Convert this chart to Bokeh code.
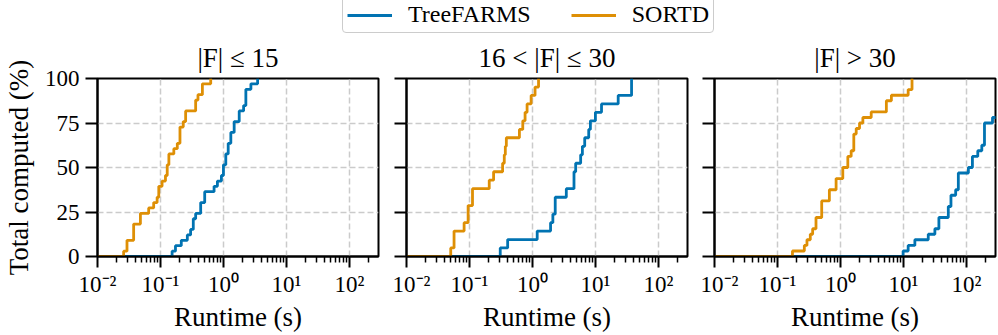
from bokeh.plotting import figure
from bokeh.layouts import column, row
from bokeh.models import (Legend, LegendItem, FixedTicker, CustomJSTickFormatter,
                          CustomLabelingPolicy, Range1d)
from bokeh.embed import file_html
from bokeh.resources import INLINE

# ---------------- data (runtime in seconds, cumulative % computed) ----------------
titles = ["|F| \u2264 15", "16 < |F| \u2264 30", "|F| > 30"]
series_names = ["TreeFARMS", "SORTD"]

p1_treefarms_t = [0.153, 0.173, 0.214, 0.267, 0.301, 0.332, 0.362, 0.435, 0.504, 0.710,
                  0.802, 0.929, 1.00, 1.09, 1.19, 1.31, 1.48, 1.78, 2.09, 2.27, 2.73, 3.49]
p1_treefarms_pct = [3.0, 6.1, 9.1, 12.1, 15.2, 21.2, 24.2, 30.3, 36.4, 39.4,
                    42.4, 45.5, 51.5, 57.6, 63.6, 69.7, 75.8, 81.8, 84.8, 93.9, 97.0, 100.0]
p1_sortd_t = [0.026, 0.0294, 0.0375, 0.048, 0.065, 0.078, 0.0885, 0.094, 0.106, 0.120,
              0.128, 0.136, 0.163, 0.185, 0.204, 0.230, 0.251, 0.362, 0.394, 0.463, 0.628]
p1_sortd_pct = [3.0, 9.1, 18.2, 24.2, 27.3, 30.3, 33.3, 39.4, 42.4, 45.5,
                51.5, 57.6, 60.6, 63.6, 72.7, 75.8, 81.8, 87.9, 90.9, 97.0, 100.0]

p2_treefarms_t = [0.308, 0.404, 1.19, 1.94, 2.11, 2.30, 3.45, 4.57, 4.86, 5.83,
                  6.21, 6.76, 7.83, 8.32, 10.0, 12.5, 23.0, 37.5]
p2_treefarms_pct = [4.8, 9.5, 14.3, 19.0, 23.8, 33.3, 38.1, 47.6, 52.4, 57.1,
                    61.9, 66.7, 71.4, 76.2, 81.0, 85.7, 90.5, 100.0]
p2_sortd_t = [0.0504, 0.0569, 0.0822, 0.0952, 0.1117, 0.206, 0.2415, 0.336, 0.357, 0.371,
              0.385, 0.621, 0.702, 0.764, 0.822, 0.953, 1.10, 1.25]
p2_sortd_pct = [4.8, 14.3, 19.0, 28.6, 38.1, 42.9, 47.6, 52.4, 57.1, 61.9,
                66.7, 71.4, 76.2, 81.0, 85.7, 90.5, 95.2, 100.0]

p3_treefarms_t = [9.89, 11.9, 15.2, 24.8, 31.6, 36.6, 51.6, 56.9, 67.6, 74.5,
                  107.6, 124.7, 151.7, 175.8, 193.8, 260.0]
p3_treefarms_pct = [3.1, 6.2, 9.4, 12.5, 15.6, 21.9, 28.1, 34.4, 37.5, 46.9,
                    50.0, 56.2, 59.4, 62.5, 75.0, 78.1]
p3_sortd_t = [0.173, 0.267, 0.294, 0.332, 0.362, 0.409, 0.504, 0.667, 0.853, 1.09,
              1.31, 1.48, 1.63, 1.78, 2.01, 2.27, 3.08, 5.36, 6.44, 11.9, 13.7]
p3_sortd_pct = [3.1, 6.2, 9.4, 12.5, 15.6, 21.9, 31.2, 37.5, 43.8, 50.0,
                56.2, 59.4, 68.8, 71.9, 75.0, 78.1, 81.2, 87.5, 90.6, 93.8, 100.0]

x_major_ticks = [0.01, 0.1, 1, 10, 100]
y_ticks = [0, 25, 50, 75, 100]
X_START, X_END = 0.01, 290.0

# ---------------- styling ----------------
COLORS = {"TreeFARMS": "#0173b2", "SORTD": "#de8f05"}
FONT = "Liberation Serif"
TICK_FS = "23px"
LABEL_FS = "27px"
TITLE_FS = "27px"
LEGEND_FS = "24px"
LINE_W = 2.8

minor_ticks = [m * t for t in x_major_ticks for m in range(2, 10) if m * t <= X_END]

sup_js = """
const sup = {'-':'\u207b','0':'\u2070','1':'\u00b9','2':'\u00b2','3':'\u00b3'};
const e = Math.round(Math.log10(tick));
return '10' + String(e).split('').map(c => sup[c]).join('');
"""

hide_labels_js = """
for (const i of indices) { indices.unset(i) }
return indices
"""


def step_xy(t, pct):
    xs = [X_START] + list(t)
    ys = [0.0] + list(pct)
    if ys[-1] < 100:
        xs.append(X_END * 10)
        ys.append(ys[-1])
    return xs, ys


def make_panel(title, tf, so, width, left, right, first):
    p = figure(width=width, height=301, x_axis_type="log",
               x_range=Range1d(X_START, X_END), y_range=Range1d(0, 100),
               output_backend="svg", toolbar_location=None,
               min_border_left=left, min_border_right=right,
               min_border_top=44, min_border_bottom=79)
    p.title.text = title
    p.title.align = "center"
    p.title.text_font = FONT
    p.title.text_font_size = TITLE_FS
    p.title.text_font_style = "normal"
    p.title.text_color = "black"
    p.title.standoff = 11

    for name, (t, pct) in zip(series_names, [tf, so]):
        xs, ys = step_xy(t, pct)
        p.step(xs, ys, mode="after", line_color=COLORS[name], line_width=LINE_W)

    p.outline_line_color = "black"
    p.outline_line_width = 2
    p.outline_line_alpha = 1

    p.xaxis.ticker = FixedTicker(ticks=x_major_ticks, minor_ticks=minor_ticks)
    p.xaxis.formatter = CustomJSTickFormatter(code=sup_js)
    p.yaxis.ticker = FixedTicker(ticks=y_ticks, minor_ticks=[])

    for ax in [p.xaxis[0], p.yaxis[0]]:
        ax.axis_line_width = 2
        ax.axis_line_color = "black"
        ax.major_tick_line_width = 2
        ax.major_tick_line_color = "black"
        ax.minor_tick_line_width = 1.5
        ax.minor_tick_line_color = "black"
        ax.major_tick_in = 0
        ax.minor_tick_in = 0
        ax.major_label_text_font = FONT
        ax.major_label_text_font_size = TICK_FS
        ax.major_label_text_color = "black"
        ax.axis_label_text_font = FONT
        ax.axis_label_text_font_size = LABEL_FS
        ax.axis_label_text_font_style = "normal"
        ax.axis_label_text_color = "black"

    p.xaxis.major_tick_out = 11
    p.xaxis.minor_tick_out = 6
    p.xaxis.major_label_standoff = 4
    p.xaxis.axis_label = "Runtime (s)"
    p.xaxis.axis_label_standoff = 2

    p.yaxis.major_tick_out = 12
    p.yaxis.minor_tick_out = 0
    if first:
        p.yaxis.axis_label = "Total computed (%)"
        p.yaxis.major_label_standoff = 6
        p.yaxis.axis_label_standoff = 8
    else:
        p.yaxis.major_label_text_font_size = "0px"
        p.yaxis.major_label_standoff = 0
        p.yaxis.major_label_policy = CustomLabelingPolicy(code=hide_labels_js)

    for g in [p.xgrid[0], p.ygrid[0]]:
        g.grid_line_color = "#cbcbcb"
        g.grid_line_width = 1.5
        g.grid_line_dash = "6 3"
    p.xgrid.ticker = FixedTicker(ticks=x_major_ticks)
    p.ygrid.ticker = FixedTicker(ticks=y_ticks)
    p.background_fill_color = "white"
    p.border_fill_color = "white"
    return p


p1 = make_panel(titles[0], (p1_treefarms_t, p1_treefarms_pct), (p1_sortd_t, p1_sortd_pct),
                392, 97, 14, True)
p2 = make_panel(titles[1], (p2_treefarms_t, p2_treefarms_pct), (p2_sortd_t, p2_sortd_pct),
                308, 14, 13, False)
p3 = make_panel(titles[2], (p3_treefarms_t, p3_treefarms_pct), (p3_sortd_t, p3_sortd_pct),
                298, 14, 3, False)

# ---------------- legend strip ----------------
leg = figure(width=998, height=34, output_backend="svg", toolbar_location=None,
             x_range=Range1d(0, 1), y_range=Range1d(0, 1), min_border=0)
leg.axis.visible = False
leg.grid.visible = False
leg.outline_line_color = None
items = []
for name in series_names:
    # glyph kept outside the visible range; only its legend swatch shows
    r = leg.line(x=[5, 6], y=[5, 6], line_color=COLORS[name], line_width=LINE_W)
    items.append(LegendItem(label=name, renderers=[r]))
legend = Legend(items=items, orientation="horizontal", location=(342, 1),
                glyph_width=45, glyph_height=20, label_standoff=16, spacing=40,
                padding=4, margin=0, border_line_color="#cccccc", border_line_width=1.5,
                border_line_alpha=1, border_radius=4,
                label_text_font=FONT, label_text_font_size=LEGEND_FS,
                label_text_color="black", background_fill_alpha=1)
leg.add_layout(legend, "center")

layout = column(leg, row(p1, p2, p3, spacing=0), spacing=0)

open("out.html", "w").write(file_html(layout, INLINE))
